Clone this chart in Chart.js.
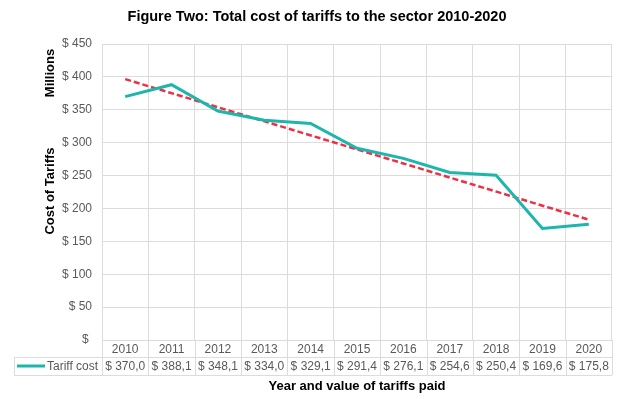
<!DOCTYPE html>
<html>
<head>
<meta charset="utf-8">
<script src="https://cdn.jsdelivr.net/npm/chart.js@4.4.1/dist/chart.umd.min.js"></script>
<style>
  html, body { margin: 0; padding: 0; background: #ffffff; }
  #wrap { width: 628px; height: 399px; position: relative; }
</style>
</head>
<body>
<div id="wrap"><canvas id="c" width="628" height="399"></canvas></div>
<script>
const chartTitle = 'Figure Two: Total cost of tariffs to the sector 2010-2020';
const yTitleTop = 'Millions';
const yTitleMain = 'Cost of Tariffs';
const xTitle = 'Year and value of tariffs paid';
const seriesName = 'Tariff cost';
const categories = ['2010', '2011', '2012', '2013', '2014', '2015', '2016', '2017', '2018', '2019', '2020'];
const tariffCost = [370.0, 388.1, 348.1, 334.0, 329.1, 291.4, 276.1, 254.6, 250.4, 169.6, 175.8];
const trendEnds = [396.6, 182.9];
const yTickValues = [0, 50, 100, 150, 200, 250, 300, 350, 400, 450];

const FONT = '"Liberation Sans", Arial, sans-serif';
const TEAL = '#1DB6AC';
const RED = '#EE2F45';
const GRID = '#DCDCDC';
const GRAY = '#595959';

function fmtValue(v) {
  return '$ ' + v.toFixed(1).replace('.', ',');
}

const tablePlugin = {
  id: 'tablePlugin',
  afterDraw(chart) {
    const ctx = chart.ctx;
    const xs = chart.scales.x;
    const area = chart.chartArea;
    const n = categories.length;
    const colW = (area.right - area.left) / n;
    const row1Top = area.bottom;
    const row2Top = 357;
    const row2Bot = 375;
    const tableLeft = 14;

    ctx.save();
    // title
    ctx.fillStyle = '#000000';
    ctx.font = 'bold 14.5px ' + FONT;
    ctx.textAlign = 'center';
    ctx.textBaseline = 'middle';
    ctx.fillText(chartTitle, 317, 17);

    // y titles
    ctx.font = 'bold 13px ' + FONT;
    ctx.save();
    ctx.translate(50, 73);
    ctx.rotate(-Math.PI / 2);
    ctx.fillText(yTitleTop, 0, 0);
    ctx.restore();
    ctx.save();
    ctx.translate(50, 191);
    ctx.rotate(-Math.PI / 2);
    ctx.fillText(yTitleMain, 0, 0);
    ctx.restore();

    // x title
    ctx.fillText(xTitle, (area.left + area.right) / 2, 386);

    // table lines
    ctx.strokeStyle = GRID;
    ctx.lineWidth = 1;
    ctx.beginPath();
    for (let i = 0; i <= n; i++) {
      const x = Math.round(area.left + i * colW) + 0.5;
      ctx.moveTo(x, row1Top);
      ctx.lineTo(x, row2Bot);
    }
    ctx.moveTo(tableLeft + 0.5, row2Top);
    ctx.lineTo(tableLeft + 0.5, row2Bot);
    ctx.moveTo(tableLeft, row2Top + 0.5);
    ctx.lineTo(area.right, row2Top + 0.5);
    ctx.moveTo(tableLeft, row2Bot + 0.5);
    ctx.lineTo(area.right, row2Bot + 0.5);
    ctx.stroke();

    // values
    ctx.fillStyle = GRAY;
    ctx.font = '12px ' + FONT;
    ctx.textAlign = 'center';
    ctx.textBaseline = 'middle';
    for (let i = 0; i < n; i++) {
      ctx.fillText(fmtValue(tariffCost[i]), xs.getPixelForValue(i), 366.5);
    }

    // legend key
    ctx.strokeStyle = TEAL;
    ctx.lineWidth = 3;
    ctx.beginPath();
    ctx.moveTo(17, 366);
    ctx.lineTo(45, 366);
    ctx.stroke();
    ctx.textAlign = 'left';
    ctx.fillText(seriesName, 47, 366.5);
    ctx.restore();
  }
};

new Chart(document.getElementById('c'), {
  type: 'line',
  data: {
    labels: categories,
    datasets: [
      {
        label: seriesName,
        data: tariffCost,
        borderColor: TEAL,
        backgroundColor: TEAL,
        borderWidth: 3,
        pointRadius: 0,
        tension: 0,
        fill: false
      },
      {
        label: 'Trend',
        data: [
          { x: categories[0], y: trendEnds[0] },
          { x: categories[categories.length - 1], y: trendEnds[1] }
        ],
        borderColor: RED,
        borderWidth: 2.5,
        borderDash: [6, 3],
        pointRadius: 0,
        tension: 0,
        fill: false
      }
    ]
  },
  options: {
    responsive: false,
    animation: false,
    devicePixelRatio: 1,
    layout: { padding: { top: 44, right: 16, bottom: 0, left: 0 } },
    plugins: {
      legend: { display: false },
      title: { display: false },
      tooltip: { enabled: false }
    },
    scales: {
      x: {
        type: 'category',
        offset: true,
        grid: { offset: true, color: GRID, drawTicks: false },
        border: { color: GRID },
        ticks: {
          color: GRAY,
          font: { family: FONT, size: 12 },
          padding: 2,
          maxRotation: 0,
          autoSkip: false
        },
        afterFit(scale) { scale.height = 59; }
      },
      y: {
        min: 0,
        max: 450,
        afterBuildTicks(scale) { scale.ticks = yTickValues.map(v => ({ value: v })); },
        grid: { color: GRID, drawTicks: false },
        border: { color: GRID },
        ticks: {
          color: GRAY,
          font: { family: FONT, size: 12 },
          padding: 10,
          callback: v => (v === 0 ? '$ ' : '$ ' + v)
        },
        afterFit(scale) { scale.width = 102; }
      }
    }
  },
  plugins: [tablePlugin]
});
</script>
</body>
</html>
